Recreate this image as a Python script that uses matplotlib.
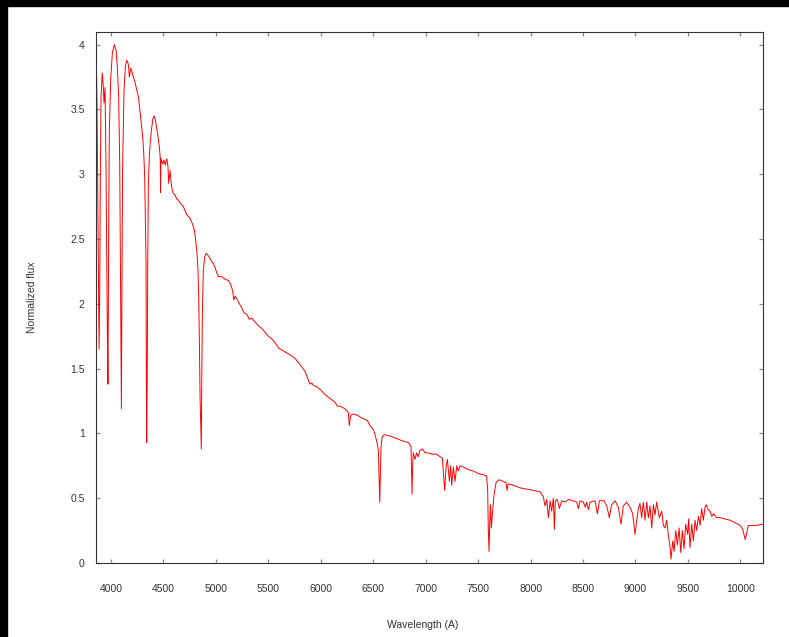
import matplotlib.pyplot as plt
from matplotlib.patches import Rectangle

# spectrum samples: wavelength (A) and normalized flux
wave = [3854, 3860, 3866, 3873, 3879, 3886, 3892, 3898, 3905, 3917,
        3927, 3933, 3943, 3952, 3965, 3971, 3978, 3984, 3997, 4013,
        4032, 4041, 4048, 4060, 4073, 4083, 4092, 4099, 4105, 4111,
        4124, 4137, 4149, 4165, 4175, 4188, 4200, 4213, 4229, 4245,
        4261, 4277, 4292, 4302, 4312, 4321, 4327, 4334, 4337, 4340,
        4346, 4350, 4356, 4365, 4375, 4388, 4400, 4410, 4423, 4435,
        4448, 4461, 4469, 4472, 4476, 4493, 4505, 4518, 4531, 4543,
        4550, 4562, 4578, 4594, 4610, 4626, 4642, 4658, 4690, 4721,
        4753, 4775, 4795, 4807, 4820, 4829, 4836, 4842, 4849, 4861,
        4865, 4871, 4880, 4893, 4906, 4918, 4938, 4957, 4976, 4992,
        5008, 5023, 5055, 5087, 5119, 5141, 5160, 5170, 5182, 5198,
        5224, 5246, 5268, 5294, 5319, 5341, 5373, 5405, 5437, 5468,
        5500, 5532, 5564, 5595, 5678, 5754, 5811, 5850, 5881, 5897,
        5913, 5929, 5961, 5993, 6040, 6088, 6136, 6158, 6183, 6231,
        6263, 6272, 6285, 6310, 6348, 6390, 6444, 6469, 6501, 6517,
        6533, 6549, 6555, 6562, 6568, 6574, 6584, 6603, 6660, 6724,
        6787, 6835, 6860, 6870, 6876, 6882, 6898, 6914, 6930, 6946,
        6971, 6994, 7026, 7057, 7105, 7137, 7159, 7168, 7181, 7194,
        7207, 7216, 7226, 7238, 7248, 7264, 7280, 7296, 7311, 7327,
        7359, 7407, 7454, 7502, 7550, 7581, 7591, 7597, 7604, 7610,
        7617, 7626, 7636, 7652, 7671, 7693, 7709, 7766, 7776, 7785,
        7836, 7899, 7963, 8027, 8090, 8122, 8138, 8154, 8170, 8186,
        8201, 8217, 8227, 8236, 8255, 8274, 8297, 8328, 8360, 8408,
        8440, 8456, 8471, 8503, 8522, 8535, 8551, 8567, 8614, 8637,
        8656, 8700, 8726, 8751, 8773, 8805, 8837, 8862, 8884, 8916,
        8948, 8973, 8996, 9012, 9028, 9043, 9059, 9075, 9091, 9107,
        9123, 9139, 9155, 9171, 9186, 9202, 9228, 9250, 9266, 9282,
        9298, 9314, 9330, 9339, 9355, 9368, 9384, 9400, 9416, 9432,
        9447, 9463, 9479, 9498, 9507, 9520, 9536, 9552, 9568, 9584,
        9600, 9616, 9631, 9647, 9663, 9673, 9695, 9711, 9727, 9743,
        9775, 9806, 9854, 9902, 9950, 9998, 10022, 10038, 10047, 10060,
        10076, 10108, 10156, 10213]

flux = [3.93, 3.87, 3.60, 2.88, 2.31, 1.65, 2.05, 2.95, 3.60, 3.78,
        3.67, 3.55, 3.67, 3.08, 1.79, 1.38, 2.57, 3.34, 3.73, 3.94,
        4.00, 3.97, 3.96, 3.83, 3.60, 3.08, 2.05, 1.19, 2.31, 3.08,
        3.65, 3.83, 3.88, 3.85, 3.75, 3.82, 3.79, 3.75, 3.71, 3.65,
        3.60, 3.48, 3.36, 3.29, 3.16, 2.98, 2.67, 2.31, 1.43, 0.93,
        1.54, 2.31, 2.93, 3.13, 3.26, 3.36, 3.43, 3.45, 3.42, 3.36,
        3.29, 3.21, 3.13, 2.86, 3.12, 3.08, 3.11, 3.07, 3.12, 3.06,
        2.93, 3.03, 2.90, 2.85, 2.84, 2.81, 2.80, 2.78, 2.75, 2.69,
        2.66, 2.62, 2.57, 2.49, 2.39, 2.26, 2.05, 1.74, 1.28, 0.88,
        1.41, 1.92, 2.26, 2.36, 2.39, 2.38, 2.36, 2.33, 2.31, 2.28,
        2.24, 2.21, 2.21, 2.19, 2.18, 2.15, 2.10, 2.03, 2.06, 2.04,
        2.00, 1.97, 1.93, 1.92, 1.88, 1.89, 1.86, 1.83, 1.81, 1.78,
        1.75, 1.73, 1.70, 1.66, 1.62, 1.58, 1.52, 1.48, 1.41, 1.38,
        1.39, 1.37, 1.36, 1.34, 1.30, 1.27, 1.24, 1.21, 1.21, 1.19,
        1.16, 1.06, 1.14, 1.15, 1.14, 1.12, 1.10, 1.06, 1.03, 0.99,
        0.94, 0.87, 0.69, 0.47, 0.69, 0.89, 0.97, 0.99, 0.98, 0.96,
        0.94, 0.93, 0.90, 0.53, 0.76, 0.85, 0.80, 0.85, 0.82, 0.87,
        0.88, 0.85, 0.85, 0.84, 0.84, 0.82, 0.81, 0.71, 0.56, 0.74,
        0.80, 0.72, 0.63, 0.75, 0.60, 0.74, 0.63, 0.75, 0.71, 0.75,
        0.74, 0.72, 0.71, 0.69, 0.68, 0.67, 0.56, 0.25, 0.09, 0.30,
        0.45, 0.27, 0.38, 0.53, 0.62, 0.64, 0.64, 0.62, 0.56, 0.61,
        0.60, 0.58, 0.57, 0.56, 0.55, 0.51, 0.44, 0.49, 0.35, 0.48,
        0.40, 0.50, 0.26, 0.48, 0.49, 0.42, 0.48, 0.47, 0.49, 0.48,
        0.47, 0.42, 0.48, 0.47, 0.43, 0.47, 0.41, 0.47, 0.48, 0.38,
        0.48, 0.48, 0.44, 0.35, 0.45, 0.48, 0.43, 0.30, 0.44, 0.47,
        0.43, 0.38, 0.22, 0.33, 0.42, 0.46, 0.35, 0.47, 0.33, 0.47,
        0.35, 0.44, 0.27, 0.45, 0.37, 0.47, 0.35, 0.40, 0.29, 0.27,
        0.33, 0.21, 0.12, 0.03, 0.17, 0.09, 0.25, 0.14, 0.27, 0.08,
        0.25, 0.11, 0.30, 0.22, 0.34, 0.12, 0.30, 0.17, 0.33, 0.25,
        0.36, 0.29, 0.42, 0.33, 0.43, 0.45, 0.41, 0.40, 0.36, 0.38,
        0.35, 0.35, 0.34, 0.33, 0.31, 0.29, 0.26, 0.21, 0.18, 0.23,
        0.29, 0.29, 0.29, 0.30]

xticks = [4000, 4500, 5000, 5500, 6000, 6500, 7000, 7500, 8000, 8500,
          9000, 9500, 10000]
yticks = [0, 0.5, 1, 1.5, 2, 2.5, 3, 3.5, 4]
ytick_labels = ['0', '0.5', '1', '1.5', '2', '2.5', '3', '3.5', '4']

plt.rcParams['font.family'] = ['Liberation Sans', 'DejaVu Sans']

W, H = 789, 637
fig = plt.figure(figsize=(W / 100, H / 100), dpi=100)
ax = fig.add_axes([95.7 / W, 1 - 563 / H, 667 / W, 531.3 / H])

ax.plot(wave, flux, color='#ff0000', lw=0.7)

ax.set_xlim(wave[0], wave[-1])
ax.set_ylim(0, 4.1)
ax.set_xticks(xticks)
ax.set_xticklabels([str(t) for t in xticks])
ax.set_yticks(yticks)
ax.set_yticklabels(ytick_labels)

ax.tick_params(direction='in', length=3, width=0.9, color='#888888',
               labelsize=7.5, labelcolor='#333333', top=True, right=True)
ax.tick_params(axis='x', pad=15)
ax.tick_params(axis='y', pad=8)
for s in ax.spines.values():
    s.set_color('#333333')
    s.set_linewidth(0.8)

ax.set_xlabel('Wavelength (A)', fontsize=7.5, color='#333333')
ax.xaxis.set_label_coords(0.49, -0.117)
ax.xaxis.label.set_va('center')
ax.set_ylabel('Normalized flux', fontsize=7.5, color='#333333')
ax.yaxis.set_label_coords(-0.096, 0.5)
ax.yaxis.label.set_va('center')

# black frame strips along the top and left edges
fig.patches.append(Rectangle((0, 1 - 6 / H), 1, 6 / H, transform=fig.transFigure,
                             color='black', zorder=0))
fig.patches.append(Rectangle((0, 0), 7 / W, 1, transform=fig.transFigure,
                             color='black', zorder=0))

fig.savefig('out.png', dpi=100)
